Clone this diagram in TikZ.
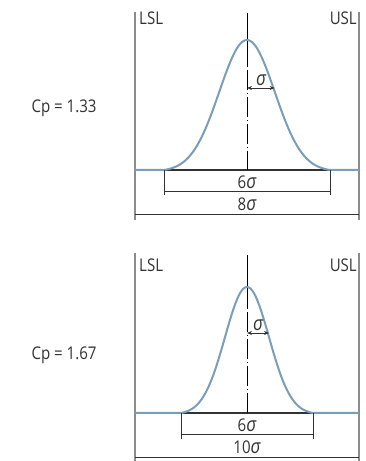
\documentclass[tikz,border=0pt]{standalone}
\usepackage{fontspec}
\setmainfont{Open Sans}[FakeStretch=0.86]
\usetikzlibrary{arrows.meta}

\definecolor{bellblue}{RGB}{122,158,186}
\definecolor{limitgray}{RGB}{140,140,140}
\definecolor{dimgray}{RGB}{50,50,50}

\newcommand{\sgm}{{\itshape\fontsize{20}{20}\selectfont σ}}

\tikzset{
  limitline/.style={limitgray, line width=1.3pt},
  bellcurve/.style={bellblue, line width=2pt, line join=round},
  axisline/.style={dimgray, line width=1.3pt},
  dimline/.style={dimgray, line width=1pt},
  centreline/.style={black, line width=0.9pt},
  sigmaarrow/.style={dimgray, line width=0.8pt, {Stealth[length=5pt,width=4pt]}-{Stealth[length=5pt,width=4pt]}},
  lbl/.style={text=dimgray, inner sep=0pt, font=\fontsize{17.5}{20}\selectfont}
}

\begin{document}
\begin{tikzpicture}[x=1pt, y=1pt]

            \useasboundingbox (0,0) rectangle (366,461);

            % upper chart, Cp = 1.33
            \draw[limitline] (135,449) -- (135,241);
            \draw[limitline] (359,449) -- (359,241);
            \draw[axisline] (135,291) -- (359,291);
            \draw[centreline] (247,448) -- (247,395);
            \draw[centreline, dash pattern=on 1pt off 3pt on 20pt off 3pt] (247,395) -- (247,291);
            \draw[bellcurve] (135,291) -- (164,291)
                -- plot[domain=-3:3, samples=90] ({247+27.7*\x},{291+130*(exp(-\x*\x/2)-0.0111)/0.9889})
                -- (359,291);
            \draw[dimline] (164,291) -- (164,266);
            \draw[dimline] (330,291) -- (330,266);
            \draw[dimline] (164,269) -- (330,269);
            \draw[dimline] (135,246) -- (359,246);
            \draw[sigmaarrow] (247,373) -- (274.7,373);

            \node[lbl, anchor=west] (lsl1) at (139,443) {LSL};
            \node[lbl, anchor=east] (usl1) at (357,443) {USL};
            \node[lbl] (sig1) at (261,381) {\sgm};
            \node[lbl] (six1) at (247,279) {6\sgm};
            \node[lbl] (eight1) at (247,257) {8\sgm};
            \node[lbl] (cp1) at (64,353) {Cp = 1.33};

            % lower chart, Cp = 1.67
            \draw[limitline] (135,208) -- (135,0);
            \draw[limitline] (359,208) -- (359,0);
            \draw[axisline] (135,48) -- (359,48);
            \draw[centreline] (247,206) -- (247,153);
            \draw[centreline, dash pattern=on 1pt off 3pt on 20pt off 3pt] (247,153) -- (247,48);
            \draw[bellcurve] (135,48) -- (181,48)
                -- plot[domain=-3:3, samples=90] ({247+22*\x},{48+126*(exp(-\x*\x/2)-0.0111)/0.9889})
                -- (359,48);
            \draw[dimline] (181,48) -- (181,22);
            \draw[dimline] (313,48) -- (313,22);
            \draw[dimline] (181,26) -- (313,26);
            \draw[dimline] (135,3) -- (359,3);
            \draw[sigmaarrow] (247,128) -- (269,128);

            \node[lbl, anchor=west] (lsl2) at (139,196) {LSL};
            \node[lbl, anchor=east] (usl2) at (357,196) {USL};
            \node[lbl] (sig2) at (258,136) {\sgm};
            \node[lbl] (six2) at (247,36) {6\sgm};
            \node[lbl] (ten2) at (247,14) {10\sgm};
            \node[lbl] (cp2) at (64,106) {Cp = 1.67};

        \end{tikzpicture}
\end{document}
